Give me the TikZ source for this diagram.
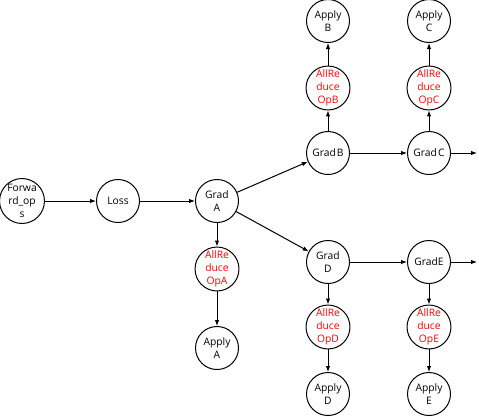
\documentclass[tikz,border=0pt]{standalone}
\usepackage{fontspec}
\setmainfont{Open Sans}
\usetikzlibrary{arrows.meta}
\begin{document}
\begin{tikzpicture}[x=1pt,y=-1pt,
  nd/.style={circle,draw,line width=1pt,minimum size=43pt,inner sep=0pt,align=center,
    font=\fontsize{10.3}{13.3}\selectfont},
  red/.style={nd,text=red},
  arr/.style={line width=1pt,-{Latex[length=6pt,width=4.5pt]}}]
\useasboundingbox (0,0) rectangle (479,416);
\node[nd] (fw) at (22,201) {Forwa\\rd\_op\\s};
\node[nd] (loss) at (118,201) {Loss};
\node[nd] (ga) at (217,201) {Grad\\A};
\node[red] (ra) at (217,269) {AllRe\\duce\\OpA};
\node[nd] (aa) at (217,348) {Apply\\A};
\node[nd] (gb) at (328,153) {Grad\kern1pt B};
\node[red] (rb) at (328,88) {AllRe\\duce\\OpB};
\node[nd] (ab) at (328,21) {Apply\\B};
\node[nd] (gc) at (429,153) {Grad\kern1pt C};
\node[red] (rc) at (429,88) {AllRe\\duce\\OpC};
\node[nd] (ac) at (429,21) {Apply\\C};
\node[nd] (gd) at (328,262) {Grad\\D};
\node[red] (rd) at (328,327) {AllRe\\duce\\OpD};
\node[nd] (ad) at (328,394) {Apply\\D};
\node[nd] (ge) at (429,262) {GradE};
\node[red] (re) at (429,327) {AllRe\\duce\\OpE};
\node[nd] (ae) at (429,394) {Apply\\E};
\coordinate (endc) at (477,153);
\coordinate (ende) at (477,262);
\draw[arr] (fw) -- (loss);
\draw[arr] (loss) -- (ga);
\draw[arr] (ga) -- (ra);
\draw[arr] (ra) -- (aa);
\draw[arr] (ga) -- (gb);
\draw[arr] (ga) -- (gd);
\draw[arr] (gb) -- (rb);
\draw[arr] (rb) -- (ab);
\draw[arr] (gb) -- (gc);
\draw[arr] (gc) -- (rc);
\draw[arr] (rc) -- (ac);
\draw[arr] (gc) -- (endc);
\draw[arr] (gd) -- (rd);
\draw[arr] (rd) -- (ad);
\draw[arr] (gd) -- (ge);
\draw[arr] (ge) -- (re);
\draw[arr] (re) -- (ae);
\draw[arr] (ge) -- (ende);
\end{tikzpicture}
\end{document}
